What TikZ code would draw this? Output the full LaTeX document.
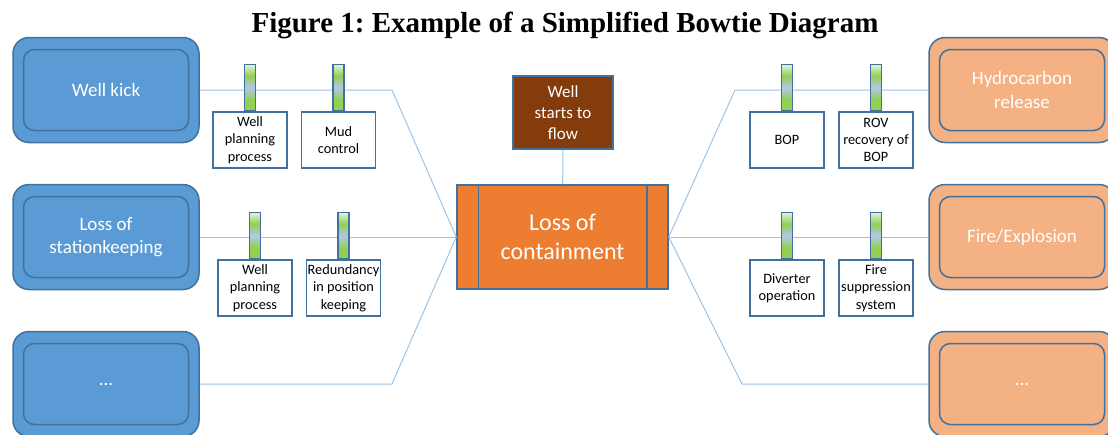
\documentclass[tikz,border=0pt]{standalone}
\usepackage{fontspec}
\setmainfont{Carlito}
\newfontfamily\titlefont{Liberation Serif}
\usepackage{xcolor}
\usepackage{tikz}
\usetikzlibrary{positioning}
\frenchspacing
\definecolor{threatblue}{HTML}{5B9BD5}
\definecolor{edgeblue}{HTML}{41719C}
\definecolor{conseqorange}{HTML}{F4B183}
\definecolor{topevent}{HTML}{ED7D31}
\definecolor{hazardbrown}{HTML}{843C0C}
\definecolor{legblue}{HTML}{9DC3E6}
\definecolor{barG}{HTML}{92D050}
\definecolor{barB}{HTML}{B4C7E7}
\definecolor{barL}{HTML}{E2F0D9}
\pgfdeclareverticalshading{barshade}{100bp}{color(0bp)=(barG); color(25bp)=(barG); color(37bp)=(barG); color(50bp)=(barB); color(63bp)=(barG); color(75bp)=(barL); color(100bp)=(barL)}
\tikzset{
  outerbox/.style={draw=edgeblue, line width=1.5pt, rounded corners=16pt, minimum width=186pt, minimum height=105pt},
  innerbox/.style={draw=edgeblue, line width=1.5pt, rounded corners=11pt, minimum width=165pt, minimum height=81pt, text=white, align=center, font=\fontsize{19}{23.5}\selectfont},
  barrier/.style={draw=edgeblue, line width=1.2pt, fill=white, minimum width=74pt, minimum height=56pt, inner sep=1pt, align=center, font=\fontsize{14.3}{17.3}\selectfont},
  barbar/.style={draw=edgeblue, line width=1.2pt, shade, shading=barshade, minimum width=11pt, minimum height=46pt, inner sep=0pt},
  leg/.style={draw=legblue, line width=1pt}
}

\begin{document}
\begin{tikzpicture}[x=1pt, y=-1pt]
	\clip (0,0) rectangle (1108,434);
	\node[anchor=base, font=\titlefont\bfseries\fontsize{29}{34}\selectfont] (title) at (565,32) {Figure 1: Example of a Simplified Bowtie Diagram};

	\node[outerbox, fill=threatblue] (kickout) at (106,90) {};
	\node[innerbox] (kick) at (106,90) {Well kick};
	\node[outerbox, fill=threatblue] (skout) at (106,237) {};
	\node[innerbox] (sk) at (106,237) {Loss of\\stationkeeping};
	\node[outerbox, fill=threatblue] (moreout) at (106,384) {};
	\node[innerbox] (more) at (106,384) {...};

	\node[outerbox, fill=conseqorange] (hcout) at (1022,90) {};
	\node[innerbox] (hc) at (1022,90) {Hydrocarbon\\release};
	\node[outerbox, fill=conseqorange] (fireout) at (1022,237) {};
	\node[innerbox] (fire) at (1022,237) {Fire/Explosion};
	\node[outerbox, fill=conseqorange] (rmoreout) at (1022,384) {};
	\node[innerbox] (rmore) at (1022,384) {...};

	\node[draw=edgeblue, line width=1.5pt, fill=topevent, minimum width=211pt, minimum height=104pt, text=white, align=center, font=\fontsize{24}{29}\selectfont] (loc) at (562.5,237) {Loss of\\containment};
	\draw[edgeblue, line width=1.5pt] ([xshift=22pt]loc.north west) -- ([xshift=22pt]loc.south west);
	\draw[edgeblue, line width=1.5pt] ([xshift=-22pt]loc.north east) -- ([xshift=-22pt]loc.south east);
	\node[draw=edgeblue, line width=1.5pt, fill=hazardbrown, minimum width=100pt, minimum height=73pt, text=white, align=center, font=\fontsize{17}{20.7}\selectfont] (wsf) at (563,112.5) {Well\\starts to\\flow};
	\draw[leg] (wsf) -- (loc);

	\coordinate (lkick) at (392,90);
	\coordinate (lmore) at (392,384);
	\coordinate (rhc) at (735,90);
	\coordinate (rmorec) at (742,384);
	\draw[leg] (kickout.east) -- (lkick) -- (loc.west);
	\draw[leg] (skout.east) -- (loc.west);
	\draw[leg] (moreout.east) -- (lmore) -- (loc.west);
	\draw[leg] (loc.east) -- (rhc) -- (hcout.west);
	\draw[leg] (loc.east) -- (fireout.west);
	\draw[leg] (loc.east) -- (rmorec) -- (rmoreout.west);

	\node[barrier] (wpp) at (250,140) {Well\\planning\\process};
	\node[barbar, above=0pt of wpp] (wppbar) {};
	\node[barrier] (mud) at (338.5,140) {Mud\\control};
	\node[barbar, above=0pt of mud] (mudbar) {};
	\node[barrier] (wpp2) at (255,288) {Well\\planning\\process};
	\node[barbar, above=0pt of wpp2] (wpp2bar) {};
	\node[barrier] (red) at (343.5,288) {Redundancy\\in position\\keeping};
	\node[barbar, above=0pt of red] (redbar) {};

	\node[barrier] (bop) at (787,140) {BOP};
	\node[barbar, above=0pt of bop] (bopbar) {};
	\node[barrier] (rov) at (876,140) {ROV\\recovery of\\BOP};
	\node[barbar, above=0pt of rov] (rovbar) {};
	\node[barrier] (div) at (787,288) {Diverter\\operation};
	\node[barbar, above=0pt of div] (divbar) {};
	\node[barrier] (sup) at (876,288) {Fire\\suppression\\system};
	\node[barbar, above=0pt of sup] (supbar) {};
\end{tikzpicture}
\end{document}
